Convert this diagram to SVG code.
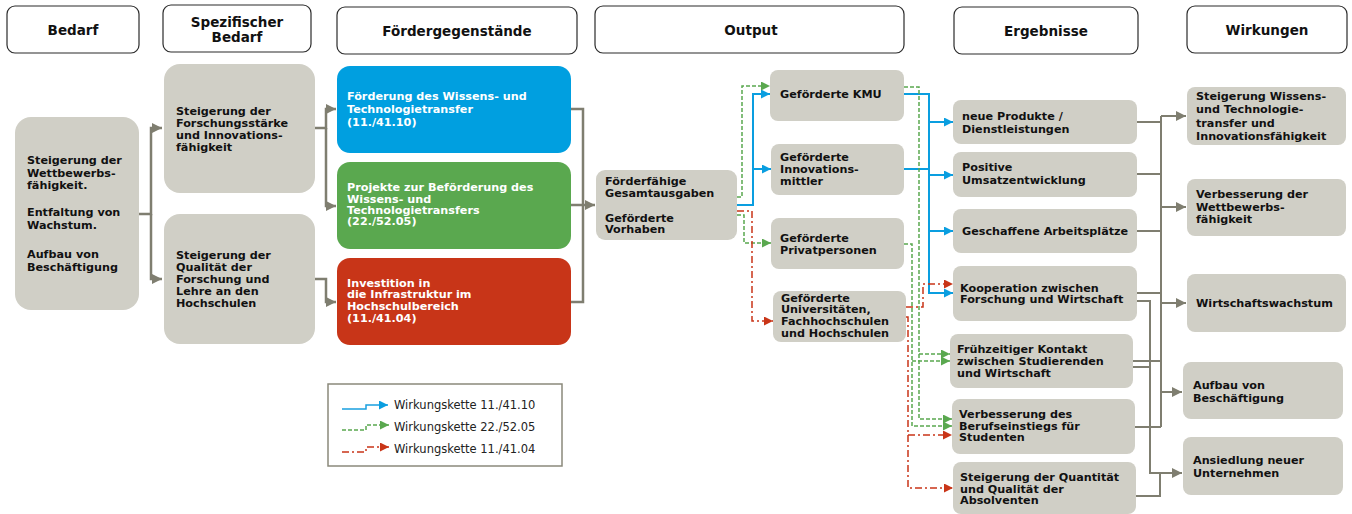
<svg xmlns="http://www.w3.org/2000/svg" width="1352" height="514" viewBox="0 0 1352 514">
<defs>
<style>
.hd{fill:#fff;stroke:#2b2b2b;stroke-width:1.2}
.ht{font-family:"DejaVu Sans",Verdana,sans-serif;font-weight:bold;font-size:13.5px;fill:#111;text-anchor:middle}
.nd{fill:#d0cfc6}
.t{font-family:"DejaVu Sans",Verdana,sans-serif;font-weight:bold;font-size:11.2px;fill:#111}
.tw{font-family:"DejaVu Sans",Verdana,sans-serif;font-weight:bold;font-size:11.2px;fill:#fff}
.lg{font-family:"DejaVu Sans",Verdana,sans-serif;font-size:11.5px;fill:#222}
.g{fill:none;stroke:#7f7e70;stroke-width:2.5}
.g2{fill:none;stroke:#7f7e70;stroke-width:2}
.b{fill:none;stroke:#0a9ee0;stroke-width:2}
.gr{fill:none;stroke:#5aa84f;stroke-width:1.5;stroke-dasharray:4 2}
.r{fill:none;stroke:#c93518;stroke-width:1.5;stroke-dasharray:7 3 2 3}
</style>
<marker id="ag" viewBox="0 0 10 10" refX="10" refY="5" markerWidth="11" markerHeight="10" markerUnits="userSpaceOnUse" orient="auto"><path d="M0,0L10,5L0,10z" fill="#7f7e70"/></marker>
<marker id="ab" viewBox="0 0 10 10" refX="10" refY="5" markerWidth="10" markerHeight="9" markerUnits="userSpaceOnUse" orient="auto"><path d="M0,0L10,5L0,10z" fill="#0a9ee0"/></marker>
<marker id="agr" viewBox="0 0 10 10" refX="10" refY="5" markerWidth="10" markerHeight="9" markerUnits="userSpaceOnUse" orient="auto"><path d="M0,0L10,5L0,10z" fill="#5aa84f"/></marker>
<marker id="ar" viewBox="0 0 10 10" refX="10" refY="5" markerWidth="10" markerHeight="9" markerUnits="userSpaceOnUse" orient="auto"><path d="M0,0L10,5L0,10z" fill="#c93518"/></marker>
</defs>

<g id="headers">
<g id="h-bedarf"><rect class="hd" x="7" y="6" width="132" height="47" rx="8"/><text class="ht" x="73" y="35">Bedarf</text></g>
<g id="h-spez"><rect class="hd" x="163" y="5" width="148" height="47" rx="8"/><text class="ht" x="237" y="27">Spezifischer</text><text class="ht" x="237" y="42">Bedarf</text></g>
<g id="h-foerder"><rect class="hd" x="337" y="7" width="240" height="47" rx="8"/><text class="ht" x="457" y="36">Fördergegenstände</text></g>
<g id="h-output"><rect class="hd" x="595" y="6" width="309" height="47" rx="8"/><text class="ht" x="751" y="35">Output</text></g>
<g id="h-ergeb"><rect class="hd" x="954" y="7" width="184" height="47" rx="8"/><text class="ht" x="1046" y="36">Ergebnisse</text></g>
<g id="h-wirk"><rect class="hd" x="1187" y="6" width="160" height="47" rx="8"/><text class="ht" x="1267" y="35">Wirkungen</text></g>
</g>

<g id="connectors">
<path class="g" d="M139,214H151V128H162" marker-end="url(#ag)"/>
<path class="g" d="M151,214V279H162" marker-end="url(#ag)"/>
<path class="g" d="M315,128H326V109H336" marker-end="url(#ag)"/>
<path class="g" d="M326,128V206H336" marker-end="url(#ag)"/>
<path class="g" d="M315,279H326V302H336" marker-end="url(#ag)"/>
<path class="g" d="M571,109H583V302H571"/>
<path class="g" d="M571,205H595" marker-end="url(#ag)"/>

<path class="g2" d="M1137,122H1161M1137,174H1161M1137,231H1161M1137,293H1161M1133,361H1161M1135,427H1161M1161,116V427"/>
<path class="g2" d="M1161,116H1186" marker-end="url(#ag)"/>
<path class="g2" d="M1161,207H1186" marker-end="url(#ag)"/>
<path class="g2" d="M1161,303H1186" marker-end="url(#ag)"/>
<path class="g2" d="M1161,392H1182" marker-end="url(#ag)"/>
<path class="g2" d="M1137,301H1150V473H1182" marker-end="url(#ag)"/>
<path class="g2" d="M1133,367H1150M1136,496H1160V473"/>

<path class="b" d="M737,205H753V94H770" marker-end="url(#ab)"/>
<path class="b" d="M753,169H771" marker-end="url(#ab)"/>
<path class="b" d="M904,94H929V293H953" marker-end="url(#ab)"/>
<path class="b" d="M904,169H929"/>
<path class="b" d="M929,122H953" marker-end="url(#ab)"/>
<path class="b" d="M929,175H953" marker-end="url(#ab)"/>
<path class="b" d="M929,231H953" marker-end="url(#ab)"/>

<path class="gr" d="M737,197H742V86H770" marker-end="url(#agr)"/>
<path class="gr" d="M737,215H744V243H771" marker-end="url(#agr)"/>
<path class="gr" d="M904,87H919V419H952" marker-end="url(#agr)"/>
<path class="gr" d="M919,354H950" marker-end="url(#agr)"/>
<path class="gr" d="M904,244H912V426H952" marker-end="url(#agr)"/>
<path class="gr" d="M912,361H950" marker-end="url(#agr)"/>

<path class="r" d="M737,211H752V321H773" marker-end="url(#ar)"/>
<path class="r" d="M906,307H923V284H953" marker-end="url(#ar)"/>
<path class="r" d="M906,317H908V488H953" marker-end="url(#ar)"/>
<path class="r" d="M908,435H952" marker-end="url(#ar)"/>
</g>

<g id="n-bedarf"><rect class="nd" x="15" y="117" width="124" height="193" rx="16"/>
<text class="t" x="27" y="164">Steigerung der</text><text class="t" x="27" y="177">Wettbewerbs-</text><text class="t" x="27" y="189">fähigkeit.</text>
<text class="t" x="27" y="216">Entfaltung von</text><text class="t" x="27" y="229">Wachstum.</text>
<text class="t" x="27" y="258">Aufbau von</text><text class="t" x="27" y="271">Beschäftigung</text></g>

<g id="n-spez1"><rect class="nd" x="164" y="64" width="151" height="129" rx="16"/>
<text class="t" x="176" y="115">Steigerung der</text><text class="t" x="176" y="127">Forschungsstärke</text><text class="t" x="176" y="139">und Innovations-</text><text class="t" x="176" y="151">fähigkeit</text></g>
<g id="n-spez2"><rect class="nd" x="164" y="214" width="151" height="130" rx="16"/>
<text class="t" x="176" y="259">Steigerung der</text><text class="t" x="176" y="271">Qualität der</text><text class="t" x="176" y="283">Forschung und</text><text class="t" x="176" y="295">Lehre an den</text><text class="t" x="176" y="307">Hochschulen</text></g>

<g id="n-blue"><rect x="337" y="66" width="234" height="87" rx="13" fill="#009fe0"/>
<text class="tw" x="347" y="100">Förderung des Wissens- und</text><text class="tw" x="347" y="113">Technologietransfer</text><text class="tw" x="347" y="126">(11./41.10)</text></g>
<g id="n-green"><rect x="337" y="162" width="234" height="87" rx="13" fill="#5aa84f"/>
<text class="tw" x="347" y="191">Projekte zur Beförderung des</text><text class="tw" x="347" y="203">Wissens- und</text><text class="tw" x="347" y="214">Technologietransfers</text><text class="tw" x="347" y="225">(22./52.05)</text></g>
<g id="n-red"><rect x="337" y="258" width="234" height="87" rx="13" fill="#c83518"/>
<text class="tw" x="347" y="287">Investition in</text><text class="tw" x="347" y="298">die Infrastruktur im</text><text class="tw" x="347" y="310">Hochschulbereich</text><text class="tw" x="347" y="322">(11./41.04)</text></g>

<g id="n-ausgaben"><rect class="nd" x="596" y="170" width="141" height="70" rx="9"/>
<text class="t" x="605" y="185">Förderfähige</text><text class="t" x="605" y="197">Gesamtausgaben</text><text class="t" x="605" y="222">Geförderte</text><text class="t" x="605" y="233">Vorhaben</text></g>

<g id="n-kmu"><rect class="nd" x="770" y="70" width="134" height="51" rx="8"/><text class="t" x="780" y="98">Geförderte KMU</text></g>
<g id="n-innov"><rect class="nd" x="771" y="144" width="133" height="51" rx="8"/>
<text class="t" x="780" y="161">Geförderte</text><text class="t" x="780" y="173">Innovations-</text><text class="t" x="780" y="185">mittler</text></g>
<g id="n-privat"><rect class="nd" x="771" y="218" width="133" height="51" rx="8"/>
<text class="t" x="780" y="242">Geförderte</text><text class="t" x="780" y="254">Privatpersonen</text></g>
<g id="n-uni"><rect class="nd" x="773" y="291" width="133" height="51" rx="8"/>
<text class="t" x="781" y="302">Geförderte</text><text class="t" x="781" y="313">Universitäten,</text><text class="t" x="781" y="325">Fachhochschulen</text><text class="t" x="781" y="337">und Hochschulen</text></g>

<g id="n-produkte"><rect class="nd" x="953" y="100" width="184" height="44" rx="8"/>
<text class="t" x="962" y="120">neue Produkte /</text><text class="t" x="962" y="133">Dienstleistungen</text></g>
<g id="n-umsatz"><rect class="nd" x="953" y="152" width="184" height="45" rx="8"/>
<text class="t" x="962" y="171">Positive</text><text class="t" x="962" y="184">Umsatzentwicklung</text></g>
<g id="n-arbeit"><rect class="nd" x="953" y="209" width="184" height="44" rx="8"/>
<text class="t" x="962" y="235">Geschaffene Arbeitsplätze</text></g>
<g id="n-koop"><rect class="nd" x="953" y="266" width="184" height="55" rx="8"/>
<text class="t" x="960" y="292">Kooperation zwischen</text><text class="t" x="960" y="303">Forschung und Wirtschaft</text></g>
<g id="n-kontakt"><rect class="nd" x="950" y="334" width="183" height="54" rx="8"/>
<text class="t" x="957" y="353">Frühzeitiger Kontakt</text><text class="t" x="957" y="365">zwischen Studierenden</text><text class="t" x="957" y="377">und Wirtschaft</text></g>
<g id="n-beruf"><rect class="nd" x="952" y="399" width="183" height="55" rx="8"/>
<text class="t" x="959" y="418">Verbesserung des</text><text class="t" x="959" y="430">Berufseinstiegs für</text><text class="t" x="959" y="441">Studenten</text></g>
<g id="n-quant"><rect class="nd" x="953" y="462" width="183" height="52" rx="8"/>
<text class="t" x="960" y="481">Steigerung der Quantität</text><text class="t" x="960" y="493">und Qualität der</text><text class="t" x="960" y="504">Absolventen</text></g>

<g id="n-w1"><rect class="nd" x="1187" y="87" width="159" height="58" rx="8"/>
<text class="t" x="1196" y="100">Steigerung Wissens-</text><text class="t" x="1196" y="113">und Technologie-</text><text class="t" x="1196" y="127">transfer und</text><text class="t" x="1196" y="140">Innovationsfähigkeit</text></g>
<g id="n-w2"><rect class="nd" x="1187" y="179" width="159" height="57" rx="8"/>
<text class="t" x="1196" y="198">Verbesserung der</text><text class="t" x="1196" y="211">Wettbewerbs-</text><text class="t" x="1196" y="223">fähigkeit</text></g>
<g id="n-w3"><rect class="nd" x="1187" y="274" width="159" height="58" rx="8"/>
<text class="t" x="1196" y="307">Wirtschaftswachstum</text></g>
<g id="n-w4"><rect class="nd" x="1183" y="362" width="160" height="57" rx="8"/>
<text class="t" x="1193" y="389">Aufbau von</text><text class="t" x="1193" y="402">Beschäftigung</text></g>
<g id="n-w5"><rect class="nd" x="1183" y="437" width="160" height="58" rx="8"/>
<text class="t" x="1193" y="464">Ansiedlung neuer</text><text class="t" x="1193" y="477">Unternehmen</text></g>

<g id="legend">
<rect x="328" y="384" width="234" height="82" fill="#fff" stroke="#8a897b" stroke-width="1.5"/>
<path d="M342,409H366V405H388" fill="none" stroke="#1aa0e0" stroke-width="1.5" marker-end="url(#ab)"/>
<path d="M342,430H366V425H389" fill="none" stroke="#5aa84f" stroke-width="1.5" stroke-dasharray="4 2" marker-end="url(#agr)"/>
<path d="M342,452H366V447H389" fill="none" stroke="#c93518" stroke-width="1.5" stroke-dasharray="7 3 2 3" marker-end="url(#ar)"/>
<text class="lg" x="394" y="409">Wirkungskette 11./41.10</text>
<text class="lg" x="394" y="431">Wirkungskette 22./52.05</text>
<text class="lg" x="394" y="453">Wirkungskette 11./41.04</text>
</g>
</svg>
